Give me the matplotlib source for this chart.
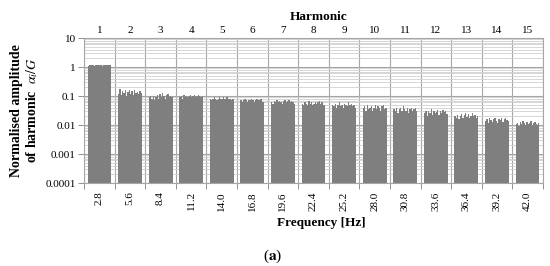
import matplotlib
matplotlib.use('Agg')
import matplotlib.pyplot as plt
from matplotlib.ticker import LogLocator, NullFormatter, FixedLocator

plt.rcParams['font.family'] = ['Liberation Serif', 'DejaVu Serif']
plt.rcParams['mathtext.fontset'] = 'stix'

harmonics = list(range(1, 16))
freq_labels = ['2.8', '5.6', '8.4', '11.2', '14.0', '16.8', '19.6', '22.4',
               '25.2', '28.0', '30.8', '33.6', '36.4', '39.2', '42.0']

# amplitudes per harmonic (normalised)
h1 = [1.12, 1.15, 1.13, 1.16, 1.14, 1.12, 1.15, 1.17, 1.13, 1.14, 1.16, 1.12, 1.15, 1.18, 1.14, 1.13, 1.16, 1.15]
h2 = [0.12, 0.17, 0.11, 0.15, 0.13, 0.16, 0.10, 0.14, 0.16, 0.12, 0.15, 0.11, 0.16, 0.13, 0.14, 0.12, 0.15, 0.13]
h3 = [0.09, 0.10, 0.08, 0.10, 0.07, 0.09, 0.11, 0.08, 0.12, 0.09, 0.13, 0.10, 0.08, 0.11, 0.12, 0.09, 0.10, 0.09]
h4 = [0.09, 0.10, 0.08, 0.11, 0.09, 0.10, 0.09, 0.10, 0.11, 0.09, 0.10, 0.11, 0.09, 0.10, 0.11, 0.10, 0.09, 0.10]
h5 = [0.08, 0.07, 0.08, 0.09, 0.08, 0.07, 0.08, 0.09, 0.08, 0.08, 0.09, 0.08, 0.09, 0.09, 0.08, 0.08, 0.07, 0.08]
h6 = [0.07, 0.06, 0.07, 0.08, 0.07, 0.06, 0.07, 0.07, 0.08, 0.07, 0.06, 0.07, 0.08, 0.07, 0.07, 0.08, 0.06, 0.06]
h7 = [0.06, 0.055, 0.065, 0.06, 0.07, 0.06, 0.065, 0.06, 0.055, 0.065, 0.07, 0.06, 0.065, 0.07, 0.06, 0.065, 0.06, 0.055]
h8 = [0.055, 0.05, 0.06, 0.055, 0.05, 0.065, 0.055, 0.06, 0.05, 0.055, 0.06, 0.055, 0.06, 0.065, 0.055, 0.06, 0.05, 0.05]
h9 = [0.05, 0.045, 0.055, 0.04, 0.05, 0.06, 0.045, 0.05, 0.04, 0.055, 0.05, 0.045, 0.06, 0.05, 0.055, 0.045, 0.05, 0.04]
h10 = [0.04, 0.045, 0.03, 0.05, 0.035, 0.04, 0.045, 0.03, 0.04, 0.05, 0.035, 0.045, 0.04, 0.03, 0.045, 0.05, 0.035, 0.04]
h11 = [0.035, 0.03, 0.04, 0.025, 0.035, 0.04, 0.03, 0.045, 0.035, 0.03, 0.04, 0.025, 0.035, 0.04, 0.03, 0.035, 0.04, 0.03]
h12 = [0.025, 0.03, 0.02, 0.03, 0.025, 0.035, 0.022, 0.03, 0.025, 0.028, 0.032, 0.022, 0.03, 0.025, 0.033, 0.027, 0.03, 0.024]
h13 = [0.02, 0.018, 0.022, 0.016, 0.02, 0.024, 0.018, 0.022, 0.025, 0.019, 0.023, 0.017, 0.021, 0.025, 0.02, 0.022, 0.018, 0.02]
h14 = [0.014, 0.016, 0.012, 0.017, 0.015, 0.013, 0.016, 0.018, 0.014, 0.012, 0.016, 0.015, 0.017, 0.013, 0.016, 0.018, 0.015, 0.014]
h15 = [0.011, 0.012, 0.009, 0.013, 0.011, 0.014, 0.012, 0.01, 0.013, 0.011, 0.012, 0.014, 0.01, 0.012, 0.013, 0.011, 0.01, 0.012]
amps = [h1, h2, h3, h4, h5, h6, h7, h8, h9, h10, h11, h12, h13, h14, h15]

fig = plt.figure(figsize=(5.5, 2.66), dpi=100)
ax = fig.add_axes([0.153, 0.312, 0.834, 0.545])

fill = 0.78
for g, vals in enumerate(amps):
    n = len(vals)
    w = fill / n
    x0 = g + 0.5 - fill / 2 + w / 2
    xs = [x0 + k * w for k in range(n)]
    ax.bar(xs, vals, width=w * 1.02, bottom=1e-4, color='#7f7f7f', linewidth=0)

ax.set_yscale('log')
ax.set_ylim(1e-4, 10)
ax.set_xlim(0, 15)
ax.set_axisbelow(True)

ax.yaxis.set_minor_locator(LogLocator(base=10, subs=range(2, 10), numticks=20))
ax.yaxis.set_minor_formatter(NullFormatter())
ax.set_yticks([1e-4, 1e-3, 1e-2, 1e-1, 1, 10])
ax.set_yticklabels(['0.0001', '0.001', '0.01', '0.1', '1', '10'], fontsize=8)
ax.tick_params(axis='y', which='major', length=4, width=0.6, color='#808080', pad=2)
ax.tick_params(axis='y', which='minor', length=0)
ax.grid(True, which='major', axis='y', color='#a6a6a6', linewidth=0.8)
ax.grid(True, which='minor', axis='y', color='#d0d0d0', linewidth=0.6)

# group boundaries on bottom axis, labels at centres
ax.xaxis.set_major_locator(FixedLocator(list(range(0, 16))))
ax.xaxis.set_major_formatter(NullFormatter())
ax.xaxis.set_minor_locator(FixedLocator([g + 0.5 for g in range(15)]))
ax.set_xticklabels(freq_labels, minor=True, rotation=90, fontsize=8)
ax.tick_params(axis='x', which='major', length=4, width=0.6, color='#808080')
ax.tick_params(axis='x', which='minor', length=0, pad=6)
ax.grid(True, which='major', axis='x', color='#a6a6a6', linewidth=0.8)

for s in ax.spines.values():
    s.set_color('#a6a6a6')
    s.set_linewidth(0.8)

top = ax.secondary_xaxis('top')
top.set_xticks([g + 0.5 for g in range(15)])
top.set_xticklabels([str(h) for h in harmonics], fontsize=8)
top.tick_params(length=0, pad=2)
top.spines['top'].set_visible(False)

fig.text(0.58, 0.935, 'Harmonic', ha='center', va='center', fontsize=9.5, fontweight='bold')
fig.text(0.585, 0.16, 'Frequency [Hz]', ha='center', va='center', fontsize=9.5, fontweight='bold')
ax.set_ylabel('Normalised amplitude\nof harmonic  $\\alpha_i/G$', fontsize=10,
              fontweight='bold', linespacing=1.05, labelpad=4)
fig.text(0.495, 0.038, '($\\mathbf{a}$)', ha='center', va='center', fontsize=11)

fig.savefig('out.png', dpi=100)
